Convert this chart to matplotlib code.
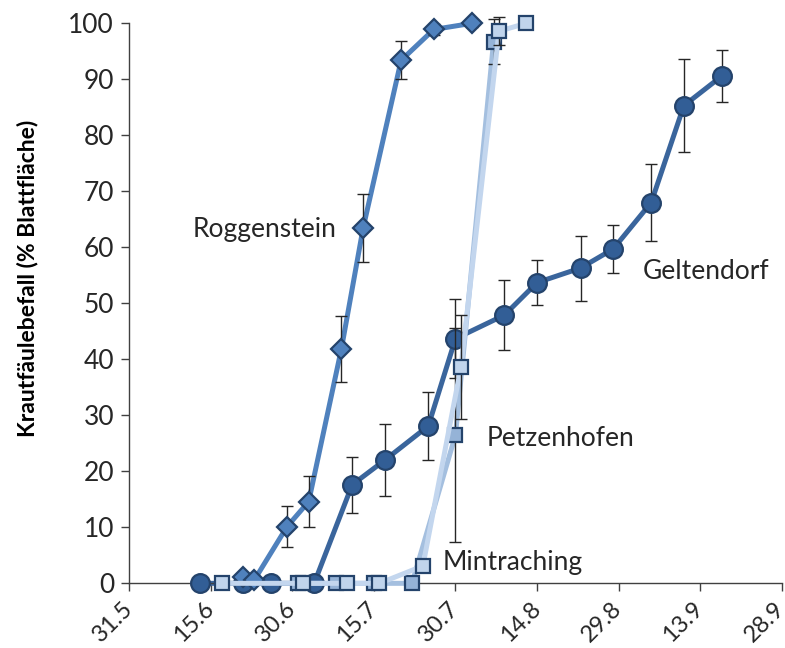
import matplotlib
matplotlib.use("Agg")
import matplotlib.pyplot as plt
import pandas as pd

plt.rcParams['font.family'] = ['Lato', 'DejaVu Sans']

# ---- data -------------------------------------------------------------
year = 2013

geltendorf_dates = ["06-13", "06-21", "06-26", "07-04", "07-11", "07-17", "07-25",
                    "07-30", "08-08", "08-14", "08-22", "08-28", "09-04", "09-10", "09-17"]
geltendorf_vals = [0, 0, 0, 0, 17.6, 22.0, 28.1, 43.7, 47.9, 53.7, 56.3, 59.7, 68.0, 85.3, 90.6]
geltendorf_err = [0, 0, 0, 0, 5.0, 6.4, 6.0, 7.0, 6.2, 4.0, 5.8, 4.2, 6.8, 8.3, 4.6]

roggenstein_dates = ["06-21", "06-23", "06-29", "07-03", "07-09", "07-13", "07-20", "07-26", "08-02"]
roggenstein_vals = [1.1, 0.6, 10.1, 14.6, 41.8, 63.4, 93.4, 98.9, 100.0]
roggenstein_err = [0, 0, 3.7, 4.6, 5.9, 6.1, 3.4, 1.0, 0.6]

petzenhofen_dates = ["07-01", "07-08", "07-15", "07-22", "07-30", "08-06"]
petzenhofen_vals = [0, 0, 0, 0, 26.5, 96.7]
petzenhofen_err = [0, 0, 0, 0, 19.1, 4.0]

mintraching_dates = ["06-17", "07-02", "07-10", "07-16", "07-24", "07-31", "08-07", "08-12"]
mintraching_vals = [0, 0, 0, 0, 3.1, 38.6, 98.6, 100.0]
mintraching_err = [0, 0, 0, 0, 0, 9.3, 2.5, 0]

tick_dates = ["05-31", "06-15", "06-30", "07-15", "07-30", "08-14", "08-29", "09-13", "09-28"]
tick_labels = ["31.5", "15.6", "30.6", "15.7", "30.7", "14.8", "29.8", "13.9", "28.9"]

y_label = "Krautfäulebefall (% Blattfläche)"


def to_dates(md):
    return pd.to_datetime([f"{year}-{d}" for d in md])


def day(offset):
    """Date `offset` days after the start of the axis."""
    return pd.Timestamp(f"{year}-05-31") + pd.Timedelta(days=offset)


# ---- figure -----------------------------------------------------------
fig = plt.figure(figsize=(7.85, 6.48), dpi=100)
ax = fig.add_axes([0.1647, 0.0998, 0.8311, 0.8642])

edge = "#24436b"
series = [
    (geltendorf_dates, geltendorf_vals, geltendorf_err, "#3a659c", "#325e96", "o", 13.5),
    (roggenstein_dates, roggenstein_vals, roggenstein_err, "#4f81bd", "#4f81bd", "D", 10.5),
    (petzenhofen_dates, petzenhofen_vals, petzenhofen_err, "#a4bfdf", "#95b3d7", "s", 9.8),
    (mintraching_dates, mintraching_vals, mintraching_err, "#c3d6ee", "#c0d4ec", "s", 9.8),
]

z = 2
for dts, vals, errs, lc, fc, mk, ms in series:
    x = to_dates(dts)
    ax.plot(x, vals, color=lc, lw=3.6, solid_capstyle="round", zorder=z, clip_on=False)
    ex = [xi for xi, e in zip(x, errs) if e > 0]
    ey = [v for v, e in zip(vals, errs) if e > 0]
    ee = [e for e in errs if e > 0]
    if ee:
        ax.errorbar(ex, ey, yerr=ee, fmt="none", ecolor="#262626", elinewidth=1.0,
                    capsize=4.3, capthick=1.0, zorder=z + 0.5, clip_on=False)
    ax.plot(x, vals, ls="none", marker=mk, ms=ms, mfc=fc, mec=edge, mew=1.6,
            zorder=z + 1, clip_on=False)
    z += 2

# ---- axes -------------------------------------------------------------
ax.set_xlim(day(0), day(120))
ax.set_ylim(0, 100)
ax.set_yticks(range(0, 101, 10))
ax.set_xticks(to_dates(tick_dates))
ax.set_xticklabels(tick_labels, rotation=45, ha="right", va="center",
                   rotation_mode="anchor", fontsize=17)
for s in ("top", "right"):
    ax.spines[s].set_visible(False)
for s in ("left", "bottom"):
    ax.spines[s].set_color("#404040")
    ax.spines[s].set_linewidth(1.0)
ax.tick_params(axis="both", direction="out", length=6, width=1.0, color="#404040",
               labelcolor="#262626")
ax.tick_params(axis="y", labelsize=19, pad=5)
ax.tick_params(axis="x", pad=10)

fig.text(0.035, 0.570, y_label, rotation=90, ha="center", va="center",
         fontsize=16.5, fontweight="bold", color="#000000")

# ---- site labels ------------------------------------------------------
lab = dict(fontsize=19, color="#262626", va="center")
ax.text(day(38.2), 63.1, "Roggenstein", ha="right", **lab)
ax.text(day(94.5), 55.6, "Geltendorf", ha="left", **lab)
ax.text(day(65.7), 25.9, "Petzenhofen", ha="left", **lab)
ax.text(day(57.7), 3.7, "Mintraching", ha="left", **lab)

fig.savefig("out.png", dpi=100)
